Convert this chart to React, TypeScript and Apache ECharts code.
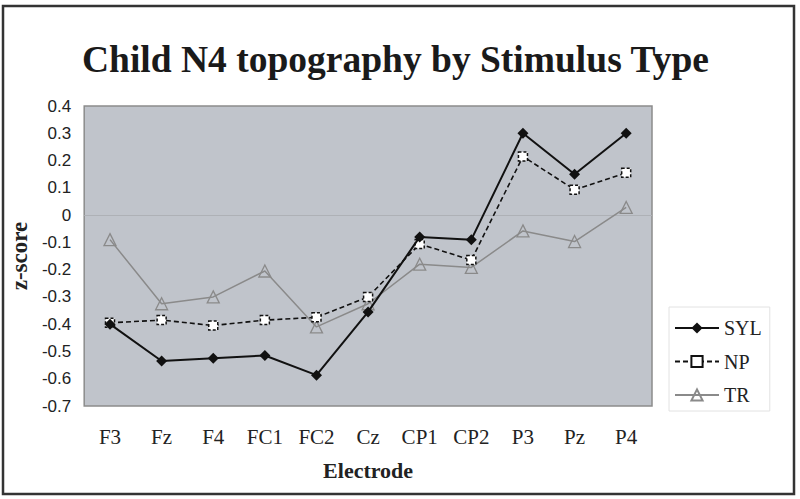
import React, { useEffect, useRef } from "react";
import * as echarts from "echarts";

const categories = ["F3", "Fz", "F4", "FC1", "FC2", "Cz", "CP1", "CP2", "P3", "Pz", "P4"];
const sylValues = [-0.40, -0.535, -0.525, -0.515, -0.587, -0.355, -0.08, -0.09, 0.30, 0.15, 0.30];
const npValues = [-0.395, -0.385, -0.405, -0.385, -0.375, -0.30, -0.106, -0.165, 0.215, 0.093, 0.155];
const trValues = [-0.09, -0.325, -0.30, -0.205, -0.41, -0.325, -0.18, -0.192, -0.058, -0.097, 0.028];
const yTicks = { min: -0.7, max: 0.4, interval: 0.1 };

const SERIF = "'Liberation Serif', 'Times New Roman', serif";
const SANS = "'Liberation Sans', Arial, sans-serif";

export default function App() {
  const ref = useRef<HTMLDivElement>(null);
  useEffect(() => {
    document.body.style.margin = "0";
    const chart = echarts.init(ref.current!, null, { renderer: "svg" });
    chart.setOption({
      animation: false,
      backgroundColor: "#ffffff",
      title: {
        text: "Child N4 topography by Stimulus Type",
        left: 77,
        top: 35,
        textStyle: { fontFamily: SERIF, fontWeight: "bold", fontSize: 37.5, color: "#1a1a1a" },
      },
      graphic: [
        {
          type: "rect",
          shape: { x: 3, y: 6, width: 791, height: 488 },
          style: { fill: "none", stroke: "#333", lineWidth: 2.5 },
          silent: true,
        },
      ],
      grid: {
        left: 83,
        top: 106,
        width: 569,
        height: 300,
        show: true,
        backgroundColor: "#c0c4cb",
        borderColor: "#8c8c8c",
        borderWidth: 1.5,
      },
      legend: {
        orient: "vertical",
        left: 669,
        top: 307,
        itemWidth: 44,
        itemHeight: 14,
        itemGap: 13.5,
        padding: [11, 8, 6, 5],
        backgroundColor: "#ffffff",
        borderColor: "#e2e2e2",
        borderWidth: 1,
        textStyle: { fontFamily: SERIF, fontSize: 20, color: "#222" },
        data: ["SYL", "NP", "TR"],
      },
      xAxis: {
        type: "category",
        data: categories,
        boundaryGap: true,
        name: "Electrode",
        nameLocation: "middle",
        nameGap: 53,
        nameTextStyle: { fontFamily: SERIF, fontWeight: "bold", fontSize: 22, color: "#222" },
        axisLine: { show: false },
        axisTick: { show: false },
        axisLabel: { fontFamily: SERIF, fontSize: 21, color: "#222", margin: 20, interval: 0 },
      },
      yAxis: {
        type: "value",
        min: yTicks.min,
        max: yTicks.max,
        interval: yTicks.interval,
        name: "z-score",
        nameLocation: "middle",
        nameGap: 45,
        nameTextStyle: { fontFamily: SERIF, fontWeight: "bold", fontSize: 23, color: "#222" },
        axisLine: { show: false },
        axisTick: { show: false },
        splitLine: { show: false },
        axisLabel: {
          fontFamily: SANS,
          fontSize: 17,
          color: "#222",
          margin: 13,
          formatter: (v: number) => String(Math.round(v * 10) / 10),
        },
      },
      series: [
        {
          name: "SYL",
          type: "line",
          data: sylValues,
          symbol: "diamond",
          symbolSize: 11,
          lineStyle: { color: "#111", width: 2 },
          itemStyle: { color: "#111" },
          z: 5,
          markLine: {
            silent: true,
            symbol: ["none", "none"],
            label: { show: false },
            lineStyle: { color: "#aeb1b6", width: 1, type: "solid" },
            data: [{ yAxis: 0 }],
            z: 1,
          },
        },
        {
          name: "NP",
          type: "line",
          data: npValues,
          symbol: "rect",
          symbolSize: 9,
          lineStyle: { color: "#111", width: 1.6, type: [5, 3] },
          itemStyle: { color: "#ffffff", borderColor: "#111", borderWidth: 1.5, borderType: [3, 2] },
          z: 4,
        },
        {
          name: "TR",
          type: "line",
          data: trValues,
          symbol: "triangle",
          symbolSize: 12,
          lineStyle: { color: "#8a8a8a", width: 1.5 },
          itemStyle: { color: "rgba(0,0,0,0)", borderColor: "#8a8a8a", borderWidth: 1.3 },
          z: 3,
        },
      ],
    });
    return () => chart.dispose();
  }, []);
  return <div ref={ref} style={{ width: 800, height: 499 }} />;
}
